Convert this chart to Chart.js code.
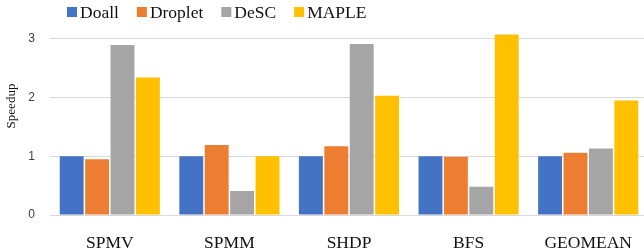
<!DOCTYPE html>
<html>
<head>
<meta charset="utf-8">
<script src="https://cdn.jsdelivr.net/npm/chart.js@4/dist/chart.umd.min.js"></script>
<style>
html,body{margin:0;padding:0;overflow:hidden;background:#fff;}
#wrap{width:648px;height:249px;position:relative;}
</style>
</head>
<body>
<div id="wrap"><canvas id="c"></canvas></div>
<script>
const categories = ['SPMV', 'SPMM', 'SHDP', 'BFS', 'GEOMEAN'];
const seriesNames = ['Doall', 'Droplet', 'DeSC', 'MAPLE'];
const doall   = [1.00, 1.00, 1.00, 1.00, 1.00];
const droplet = [0.95, 1.19, 1.17, 0.99, 1.06];
const desc    = [2.89, 0.41, 2.91, 0.48, 1.13];
const maple   = [2.34, 1.00, 2.03, 3.07, 1.95];
const yTicks  = [0, 1, 2, 3];
const yTitle  = 'Speedup';
const colors  = ['#4472C4', '#ED7D31', '#A5A5A5', '#FFC000'];
const seriesValues = [doall, droplet, desc, maple];

const serif = "'Liberation Serif', 'Times New Roman', serif";

const legendPlugin = {
  id: 'customLegend',
  afterDraw(chart) {
    const ctx = chart.ctx;
    ctx.save();
    ctx.font = '17.5px ' + serif;
    ctx.textBaseline = 'alphabetic';
    let x = 67;
    chart.data.datasets.forEach(ds => {
      ctx.fillStyle = ds.backgroundColor;
      ctx.fillRect(x, 7, 10, 10);
      ctx.fillStyle = '#111';
      ctx.fillText(ds.label, x + 13, 18);
      x += 13 + ctx.measureText(ds.label).width + 18;
    });
    // y axis title
    ctx.translate(12, 106);
    ctx.rotate(-Math.PI / 2);
    ctx.font = '13px ' + serif;
    ctx.textAlign = 'center';
    ctx.textBaseline = 'middle';
    ctx.fillText(yTitle, 0, 0);
    ctx.restore();
  }
};

new Chart(document.getElementById('c'), {
  type: 'bar',
  data: {
    labels: categories,
    datasets: seriesNames.map((n, i) => ({
      label: n,
      data: seriesValues[i],
      backgroundColor: colors[i],
      borderWidth: 0,
      categoryPercentage: 0.85,
      barPercentage: 0.94
    }))
  },
  options: {
    responsive: true,
    maintainAspectRatio: false,
    animation: false,
    layout: { padding: { top: 22, right: 0, left: 0, bottom: 0 } },
    plugins: { legend: { display: false }, tooltip: { enabled: false } },
    scales: {
      x: {
        grid: { display: false },
        border: { display: false },
        ticks: { font: { family: serif, size: 17.5 }, color: '#111', padding: 10, maxRotation: 0 },
        afterFit(s) { s.height = 34; }
      },
      y: {
        min: 0,
        max: 3.28,
        afterBuildTicks(s) { s.ticks = yTicks.map(v => ({ value: v })); },
        grid: { color: '#D9D9D9', drawTicks: false, lineWidth: 1 },
        border: { display: false },
        ticks: { font: { family: "'Liberation Sans', Arial, sans-serif", size: 12 }, color: '#404040', padding: 15 },
        afterFit(s) { s.width = 50; }
      }
    }
  },
  plugins: [legendPlugin]
});
</script>
</body>
</html>
